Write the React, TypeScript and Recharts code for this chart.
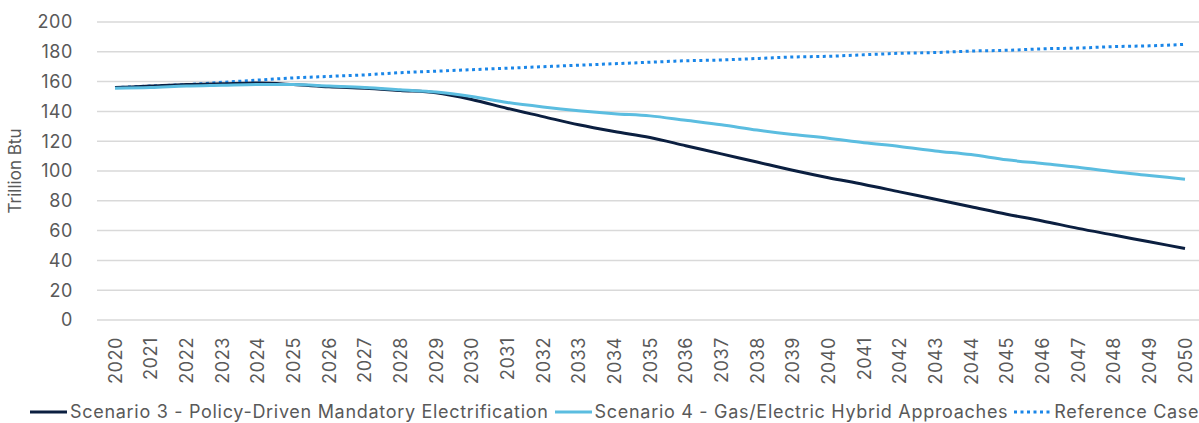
import React from 'react';
import { LineChart, Line, XAxis, YAxis, CartesianGrid, Legend, Label } from 'recharts';

const years = [
  '2020','2021','2022','2023','2024','2025','2026','2027','2028','2029',
  '2030','2031','2032','2033','2034','2035','2036','2037','2038','2039',
  '2040','2041','2042','2043','2044','2045','2046','2047','2048','2049','2050',
];

const scenario3 = [
  156, 157, 158, 158.5, 159, 158, 156.5, 155.5, 154, 152.5,
  148, 142, 136.5, 131, 126.5, 122.5, 117, 111.5, 106, 100.5,
  95.5, 91, 86, 81, 76, 71, 66.5, 61.5, 57, 52.5, 48,
];

const scenario4 = [
  155.5, 156, 157, 157.5, 158, 158, 157, 156, 154.5, 153,
  150, 146, 143, 140.5, 138.5, 137, 134, 131, 127.5, 124.5,
  122, 119, 116.5, 113.5, 111, 107.5, 105, 102.5, 99.5, 97, 94.5,
];

const referenceCase = [
  156, 157, 158, 159.5, 161, 162.5, 163.5, 164.5, 166, 167,
  168, 169, 170, 171, 172, 173, 174, 174.5, 175.5, 176.5,
  177, 178, 179, 179.5, 180.5, 181, 182, 182.5, 183.5, 184, 185,
];

const yTicks = [0, 20, 40, 60, 80, 100, 120, 140, 160, 180, 200];

const seriesNames = {
  s3: 'Scenario 3 - Policy-Driven Mandatory Electrification',
  s4: 'Scenario 4 - Gas/Electric Hybrid Approaches',
  ref: 'Reference Case',
};

const colors = { s3: '#0b1f40', s4: '#5bbde0', ref: '#1a86e8' };

const data = years.map((y, i) => ({
  year: y,
  s3: scenario3[i],
  s4: scenario4[i],
  ref: referenceCase[i],
}));

const FONT = 'Inter, "Noto Sans", sans-serif';
const TEXT = '#595959';

const XTick = (props: any) => {
  const { x, y, payload } = props;
  return (
    <text
      x={0}
      y={0}
      transform={`translate(${x + 6.5},${y + 15}) rotate(-90)`}
      textAnchor="end"
      fill={TEXT}
      fontSize={18}
      fontFamily={FONT}
      letterSpacing={0.6}
    >
      {payload.value}
    </text>
  );
};

const renderLegend = () => {
  const items = [
    { key: 's3', dash: undefined },
    { key: 's4', dash: undefined },
    { key: 'ref', dash: '3 3.5' },
  ] as const;
  return (
    <div
      style={{
        display: 'flex',
        alignItems: 'center',
        height: 43,
        boxSizing: 'border-box',
        paddingTop: 21,
        paddingLeft: 30,
        fontFamily: FONT,
        fontSize: 18,
        letterSpacing: 0.7,
        color: TEXT,
        whiteSpace: 'nowrap',
        lineHeight: '20px',
      }}
    >
      {items.map((it) => (
        <div key={it.key} style={{ display: 'flex', alignItems: 'center', marginRight: 6 }}>
          <svg width={37} height={4} style={{ marginRight: 3 }}>
            <line
              x1={0}
              y1={2}
              x2={37}
              y2={2}
              stroke={(colors as any)[it.key]}
              strokeWidth={3}
              strokeDasharray={it.dash}
            />
          </svg>
          <span>{(seriesNames as any)[it.key]}</span>
        </div>
      ))}
    </div>
  );
};

export default function App() {
  return (
    <div
      style={{
        position: 'absolute',
        left: 0,
        top: 0,
        width: 1199,
        height: 423,
        overflow: 'hidden',
        background: '#fff',
        fontFamily: FONT,
      }}
    >
      <LineChart
        width={1205}
        height={423}
        data={data}
        margin={{ top: 22, right: 2, bottom: 0, left: 0 }}
      >
        <CartesianGrid vertical={false} stroke="#d9d9d9" strokeWidth={1.5} />
        <XAxis
          dataKey="year"
          axisLine={false}
          tickLine={false}
          tickSize={0}
          height={60}
          interval={0}
          padding={{ left: 18, right: 18 }}
          tick={<XTick />}
        />
        <YAxis
          width={97}
          domain={[0, 200]}
          ticks={yTicks}
          axisLine={false}
          tickLine={false}
          tickSize={0}
          tickMargin={24}
          tick={{ fill: TEXT, fontSize: 18, fontFamily: FONT, letterSpacing: 0.6 }}
        >
          <Label
            value="Trillion Btu"
            angle={-90}
            position="insideLeft"
            offset={15}
            style={{ textAnchor: 'middle', fill: TEXT, fontSize: 17, fontFamily: FONT }}
          />
        </YAxis>
        <Legend verticalAlign="bottom" height={43} content={renderLegend} wrapperStyle={{ left: 0 }} />
        <Line
          dataKey="ref"
          name={seriesNames.ref}
          stroke={colors.ref}
          strokeWidth={3}
          strokeDasharray="3 3.5"
          dot={false}
          type="monotone"
          isAnimationActive={false}
        />
        <Line
          dataKey="s3"
          name={seriesNames.s3}
          stroke={colors.s3}
          strokeWidth={3}
          dot={false}
          type="monotone"
          isAnimationActive={false}
        />
        <Line
          dataKey="s4"
          name={seriesNames.s4}
          stroke={colors.s4}
          strokeWidth={3}
          dot={false}
          type="monotone"
          isAnimationActive={false}
        />
      </LineChart>
    </div>
  );
}
